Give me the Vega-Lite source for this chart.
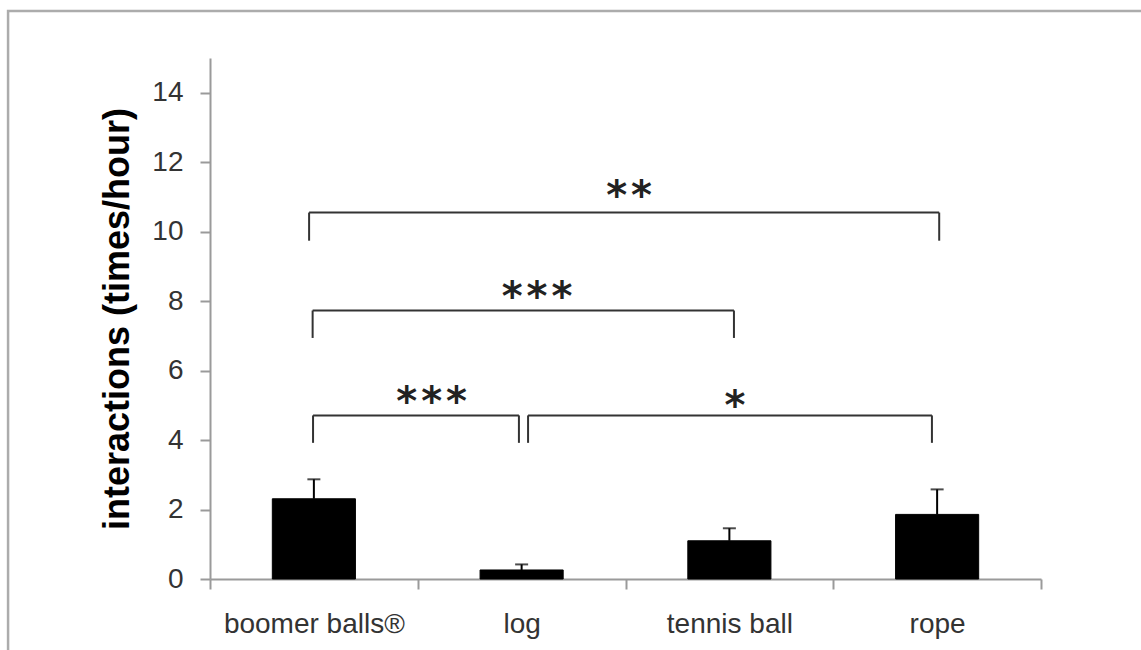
{
  "$schema": "https://vega.github.io/schema/vega-lite/v6.json",
  "width": 831,
  "height": 521,
  "autosize": "none",
  "padding": {"left": 210, "top": 58, "right": 100, "bottom": 71},
  "background": "white",
  "config": {"view": {"stroke": null}, "font": "Liberation Sans"},
  "datasets": {
    "bars": [
      {"item": "boomer balls®", "mean": 2.31, "upper": 2.87},
      {"item": "log", "mean": 0.26, "upper": 0.42},
      {"item": "tennis ball", "mean": 1.1, "upper": 1.46},
      {"item": "rope", "mean": 1.86, "upper": 2.58}
    ],
    "brackets": [
      {"x": 0.477, "x2": 3.51, "y": 10.55, "y2": 10.55},
      {"x": 0.477, "x2": 0.477, "y": 10.55, "y2": 9.74},
      {"x": 3.51, "x2": 3.51, "y": 10.55, "y2": 9.74},
      {"x": 0.494, "x2": 2.522, "y": 7.73, "y2": 7.73},
      {"x": 0.494, "x2": 0.494, "y": 7.73, "y2": 6.94},
      {"x": 2.522, "x2": 2.522, "y": 7.73, "y2": 6.94},
      {"x": 0.496, "x2": 1.487, "y": 4.71, "y2": 4.71},
      {"x": 0.496, "x2": 0.496, "y": 4.71, "y2": 3.92},
      {"x": 1.487, "x2": 1.487, "y": 4.71, "y2": 3.92},
      {"x": 1.531, "x2": 3.475, "y": 4.71, "y2": 4.71},
      {"x": 1.531, "x2": 1.531, "y": 4.71, "y2": 3.92},
      {"x": 3.475, "x2": 3.475, "y": 4.71, "y2": 3.92}
    ],
    "stars": [
      {"x": 2.017, "y": 11.29, "label": "*\u200a*"},
      {"x": 1.574, "y": 8.38, "label": "*\u200a*\u200a*"},
      {"x": 1.067, "y": 5.36, "label": "*\u200a*\u200a*"},
      {"x": 2.527, "y": 5.24, "label": "*"}
    ],
    "frame": [
      {"x": -0.972, "x2": 4.6, "y": 16.35, "y2": -2.6}
    ]
  },
  "layer": [
    {
      "data": {"name": "bars"},
      "encoding": {
        "x": {
          "field": "item",
          "type": "nominal",
          "sort": null,
          "scale": {"paddingInner": 0, "paddingOuter": 0},
          "axis": {
            "title": null,
            "labelAngle": 0,
            "labelFont": "Liberation Sans",
            "labelFontSize": 28,
            "labelColor": "#333333",
            "labelPadding": 21,
            "labelLimit": 500,
            "labelOverlap": false,
            "domainColor": "#9a9a9a",
            "domainWidth": 2,
            "tickColor": "#9a9a9a",
            "tickWidth": 2,
            "tickSize": 10,
            "tickBand": "extent",
            "grid": false
          }
        },
        "y": {
          "field": "mean",
          "type": "quantitative",
          "scale": {"domain": [0, 15], "nice": false},
          "axis": {
            "title": "interactions (times/hour)",
            "titleFont": "Liberation Sans",
            "titleFontSize": 36,
            "titleFontWeight": "bold",
            "titleColor": "#000000",
            "titlePadding": 15,
            "values": [0, 2, 4, 6, 8, 10, 12, 14],
            "labelFont": "Liberation Sans",
            "labelFontSize": 28,
            "labelColor": "#333333",
            "labelPadding": 17,
            "domainColor": "#9a9a9a",
            "domainWidth": 2,
            "tickColor": "#9a9a9a",
            "tickWidth": 2,
            "tickSize": 10,
            "grid": false
          }
        }
      },
      "layer": [
        {"mark": {"type": "bar", "color": "#000000", "stroke": "#000000", "strokeWidth": 1, "width": {"band": 0.4}}},
        {
          "mark": {"type": "rule", "color": "#000000", "strokeWidth": 2},
          "encoding": {"y2": {"field": "upper"}}
        },
        {
          "mark": {"type": "tick", "color": "#000000", "size": 13, "thickness": 2},
          "encoding": {"y": {"field": "upper", "type": "quantitative"}}
        }
      ]
    },
    {
      "layer": [
        {
          "data": {"name": "frame"},
          "mark": {"type": "rect", "fill": null, "fillOpacity": 0, "stroke": "#acacac", "strokeWidth": 2.5},
          "encoding": {
            "x": {"field": "x", "type": "quantitative", "scale": {"domain": [0, 4], "nice": false, "zero": false}, "axis": null},
            "x2": {"field": "x2"},
            "y": {"field": "y", "type": "quantitative", "scale": {"domain": [0, 15], "nice": false}, "axis": null},
            "y2": {"field": "y2"}
          }
        },
        {
          "data": {"name": "brackets"},
          "mark": {"type": "rule", "color": "#333333", "strokeWidth": 2},
          "encoding": {
            "x": {"field": "x", "type": "quantitative", "scale": {"domain": [0, 4], "nice": false, "zero": false}, "axis": null},
            "x2": {"field": "x2"},
            "y": {"field": "y", "type": "quantitative", "scale": {"domain": [0, 15], "nice": false}, "axis": null},
            "y2": {"field": "y2"}
          }
        },
        {
          "data": {"name": "stars"},
          "mark": {"type": "text", "font": "DejaVu Sans", "fontSize": 40, "fontWeight": "bold", "color": "#222222", "align": "center", "baseline": "alphabetic", "dy": 22},
          "encoding": {
            "x": {"field": "x", "type": "quantitative", "scale": {"domain": [0, 4], "nice": false, "zero": false}, "axis": null},
            "y": {"field": "y", "type": "quantitative", "scale": {"domain": [0, 15], "nice": false}, "axis": null},
            "text": {"field": "label"}
          }
        }
      ]
    }
  ],
  "resolve": {"scale": {"x": "independent", "y": "independent"}, "axis": {"x": "independent", "y": "independent"}}
}
